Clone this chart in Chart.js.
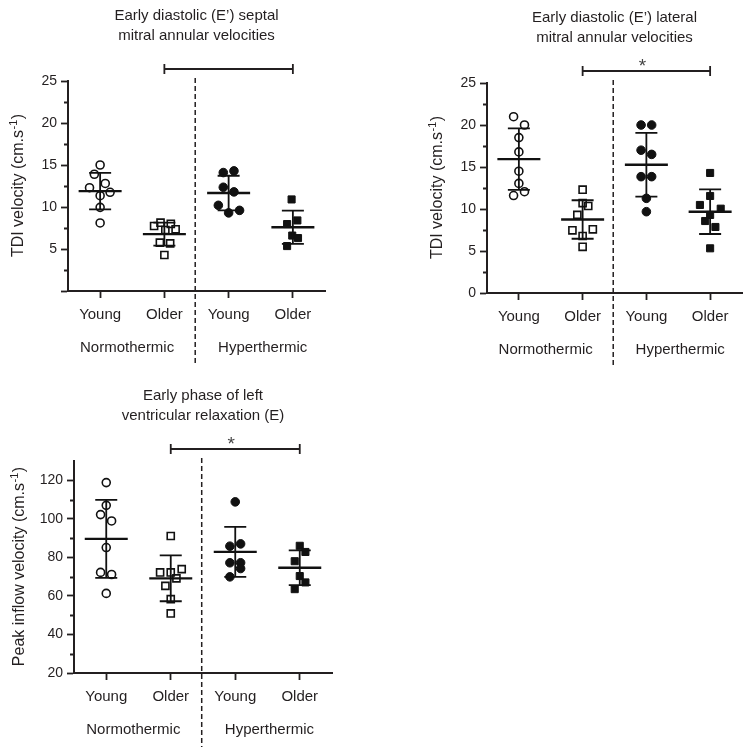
<!DOCTYPE html>
<html><head><meta charset="utf-8">
<script src="https://cdn.jsdelivr.net/npm/chart.js@4.4.0/dist/chart.umd.min.js"></script>
<style>
html,body{margin:0;padding:0;background:#fff;}
body{width:751px;height:754px;position:relative;overflow:hidden;}
canvas{position:absolute;}
</style></head><body>
<canvas id="c1" width="375" height="375" style="left:0;top:0;width:375px;height:375px"></canvas>
<canvas id="c2" width="376" height="375" style="left:375px;top:0;width:376px;height:375px"></canvas>
<canvas id="c3" width="375" height="377" style="left:0;top:377px;width:375px;height:377px"></canvas>
<script>
// ---------- shared labels ----------
const categories = ['Young', 'Older', 'Young', 'Older'];
const groupLabels = ['Normothermic', 'Hyperthermic'];

// ---------- tick labels ----------
const tdiTicks = [0, 5, 10, 15, 20, 25];
const tdiMinorTicks = [2.5, 7.5, 12.5, 17.5, 22.5];
const inflowTicks = [20, 40, 60, 80, 100, 120];
const inflowMinorTicks = [30, 50, 70, 90, 110];

// ---------- titles ----------
const septalTitle = ['Early diastolic (E\u2019) septal', 'mitral annular velocities'];
const lateralTitle = ['Early diastolic (E\u2019) lateral', 'mitral annular velocities'];
const inflowTitle = ['Early phase of left', 'ventricular relaxation (E)'];
const tdiAxisTitle = ['TDI velocity (cm.s', '-1', ')'];
const inflowAxisTitle = ['Peak inflow velocity (cm.s', '-1', ')'];

// ---------- Panel 1: septal E' (cm/s) ----------
const septalYoungNormo    = [15.0, 13.9, 12.8, 12.3, 11.75, 11.35, 9.96, 8.1];
const septalYoungNormoJit = [0, -0.09, 0.08, -0.165, 0.155, 0, 0, 0];
const septalOlderNormo    = [8.13, 8.0, 7.74, 7.34, 7.26, 5.75, 5.67, 4.29];
const septalOlderNormoJit = [-0.06, 0.1, -0.16, 0.175, 0.015, -0.07, 0.09, 0];
const septalYoungHyper    = [14.1, 14.3, 12.35, 11.8, 10.2, 9.3, 9.6];
const septalYoungHyperJit = [-0.083, 0.083, -0.083, 0.083, -0.16, 0, 0.17];
const septalOlderHyper    = [10.9, 7.97, 8.4, 6.6, 6.3, 5.35];
const septalOlderHyperJit = [-0.02, -0.09, 0.07, -0.01, 0.08, -0.09];

// ---------- Panel 2: lateral E' (cm/s) ----------
const lateralYoungNormo    = [20.99, 20.0, 18.5, 16.8, 14.5, 13.05, 12.06, 11.6];
const lateralYoungNormoJit = [-0.083, 0.088, 0, 0, 0, 0, 0.088, -0.083];
const lateralOlderNormo    = [12.3, 10.7, 10.36, 9.3, 7.46, 7.58, 6.79, 5.5];
const lateralOlderNormoJit = [0, 0, 0.088, -0.083, -0.16, 0.16, 0, 0];
const lateralYoungHyper    = [20.0, 20.0, 17.0, 16.5, 13.85, 13.85, 11.27, 9.68];
const lateralYoungHyperJit = [-0.083, 0.083, -0.083, 0.083, -0.083, 0.083, 0, 0];
const lateralOlderHyper    = [14.29, 11.55, 10.48, 10.04, 9.29, 8.57, 7.86, 5.32];
const lateralOlderHyperJit = [0, 0, -0.16, 0.166, 0, -0.078, 0.083, 0];

// ---------- Panel 3: peak inflow E (cm/s) ----------
const inflowYoungNormo    = [118.8, 107.0, 102.2, 98.9, 85.1, 72.2, 71.1, 61.3];
const inflowYoungNormoJit = [0, 0, -0.088, 0.083, 0, -0.088, 0.083, 0];
const inflowOlderNormo    = [91.1, 72.2, 72.2, 73.9, 69.1, 65.2, 58.3, 50.9];
const inflowOlderNormoJit = [0, -0.165, 0, 0.17, 0.088, -0.083, 0, 0];
const inflowYoungHyper    = [108.8, 85.8, 87.0, 77.2, 77.2, 74.2, 69.9];
const inflowYoungHyperJit = [0, -0.083, 0.083, -0.083, 0.083, 0.083, -0.083];
const inflowOlderHyper    = [86.0, 82.8, 78.0, 70.3, 67.0, 63.5];
const inflowOlderHyperJit = [0, 0.088, -0.078, 0, 0.088, -0.078];

// ---------- styling ----------
const FONT = "'Liberation Sans', Arial, Helvetica, sans-serif";
const INK = '#231f20';
const MARK = '#111111';

function toPoints(values, jitter, cat) {
  return values.map((v, i) => ({ x: cat + jitter[i], y: v }));
}

function makeDatasets(yn, ynj, on, onj, yh, yhj, oh, ohj) {
  return [
    { cat: 1, data: toPoints(yn, ynj, 1), pointStyle: 'circle', pointRadius: 4, backgroundColor: 'rgba(0,0,0,0)', borderColor: MARK, borderWidth: 1.6 },
    { cat: 2, data: toPoints(on, onj, 2), pointStyle: 'rect', pointRadius: 5, backgroundColor: 'rgba(0,0,0,0)', borderColor: MARK, borderWidth: 1.6 },
    { cat: 3, data: toPoints(yh, yhj, 3), pointStyle: 'circle', pointRadius: 4.3, backgroundColor: MARK, borderColor: MARK, borderWidth: 1 },
    { cat: 4, data: toPoints(oh, ohj, 4), pointStyle: 'rect', pointRadius: 5, backgroundColor: MARK, borderColor: MARK, borderWidth: 1 }
  ].map(d => Object.assign(d, { pointHoverRadius: d.pointRadius, showLine: false }));
}

function decorPlugin(cfg) {
  return {
    id: 'decor',
    afterDatasetsDraw(chart) {
      const { ctx, scales: { x, y } } = chart;
      ctx.save();
      ctx.strokeStyle = MARK;
      chart.data.datasets.forEach(ds => {
        const vals = ds.data.map(p => p.y);
        const n = vals.length;
        const m = vals.reduce((s, v) => s + v, 0) / n;
        const sd = Math.sqrt(vals.reduce((s, v) => s + (v - m) * (v - m), 0) / (n - 1));
        const px = x.getPixelForValue(ds.cat);
        const pm = y.getPixelForValue(m);
        const pt = y.getPixelForValue(m + sd);
        const pb = y.getPixelForValue(m - sd);
        ctx.lineWidth = 1.8;
        ctx.beginPath();
        ctx.moveTo(px, pt); ctx.lineTo(px, pb);
        ctx.moveTo(px - 11, pt); ctx.lineTo(px + 11, pt);
        ctx.moveTo(px - 11, pb); ctx.lineTo(px + 11, pb);
        ctx.stroke();
        ctx.lineWidth = 2.4;
        ctx.beginPath();
        ctx.moveTo(px - 21.5, pm); ctx.lineTo(px + 21.5, pm);
        ctx.stroke();
      });
      ctx.restore();
    },
    afterDraw(chart) {
      const { ctx, chartArea: a, scales: { x, y } } = chart;
      ctx.save();
      ctx.fillStyle = INK;
      ctx.strokeStyle = INK;
      const cx = (a.left + a.right) / 2;
      // title
      ctx.font = `15px ${FONT}`;
      ctx.textAlign = 'center';
      ctx.textBaseline = 'alphabetic';
      cfg.title.forEach((t, i) => ctx.fillText(t, cx, a.top - 61 + i * 20));
      // y-axis title with superscript
      ctx.save();
      ctx.translate(a.left - cfg.yTitleGap, (a.top + a.bottom) / 2);
      ctx.rotate(-Math.PI / 2);
      const [t1, sup, t3] = cfg.yTitle;
      ctx.font = `16px ${FONT}`;
      const w1 = ctx.measureText(t1).width;
      const w3 = ctx.measureText(t3).width;
      ctx.font = `11px ${FONT}`;
      const ws = ctx.measureText(sup).width;
      const start = -(w1 + ws + w3) / 2;
      ctx.textAlign = 'left';
      ctx.font = `16px ${FONT}`;
      ctx.fillText(t1, start, 0);
      ctx.font = `11px ${FONT}`;
      ctx.fillText(sup, start + w1 + 0.5, -6.5);
      ctx.font = `16px ${FONT}`;
      ctx.fillText(t3, start + w1 + ws + 1, 0);
      ctx.restore();
      // minor ticks
      ctx.lineWidth = 1.8;
      ctx.beginPath();
      cfg.minorTicks.forEach(v => {
        const py = Math.round(y.getPixelForValue(v)) + 0.5;
        ctx.moveTo(a.left - 4, py); ctx.lineTo(a.left, py);
      });
      ctx.stroke();
      // dashed divider
      const dx = x.getPixelForValue(2.48);
      ctx.lineWidth = 1.5;
      ctx.setLineDash([5, 3]);
      ctx.beginPath();
      ctx.moveTo(dx, a.top - 3); ctx.lineTo(dx, a.bottom + 74);
      ctx.stroke();
      ctx.setLineDash([]);
      // group labels
      ctx.font = `15px ${FONT}`;
      ctx.textAlign = 'center';
      ctx.fillText(groupLabels[0], x.getPixelForValue(1.42), a.bottom + 61);
      ctx.fillText(groupLabels[1], x.getPixelForValue(3.53), a.bottom + 61);
      // comparison bracket Older normo vs Older hyper
      const bx1 = x.getPixelForValue(2), bx2 = x.getPixelForValue(4);
      const by = a.top - 12;
      ctx.lineWidth = 1.8;
      ctx.beginPath();
      ctx.moveTo(bx1, by); ctx.lineTo(bx2, by);
      ctx.moveTo(bx1, by - 5); ctx.lineTo(bx1, by + 5);
      ctx.moveTo(bx2, by - 5); ctx.lineTo(bx2, by + 5);
      ctx.stroke();
      if (cfg.star) {
        ctx.font = `19px ${FONT}`;
        ctx.fillStyle = '#444';
        ctx.fillText('*', (bx1 + bx2) / 2 - 4, by + 1);
      }
      ctx.restore();
    }
  };
}

function makeChart(id, datasets, o) {
  return new Chart(document.getElementById(id), {
    type: 'scatter',
    data: { datasets },
    options: {
      responsive: false,
      animation: false,
      events: [],
      layout: { padding: o.padding },
      plugins: { legend: { display: false }, tooltip: { enabled: false }, title: { display: false } },
      scales: {
        x: {
          type: 'linear', min: 0.5, max: 4.5,
          afterBuildTicks: s => { s.ticks = categories.map((_, i) => ({ value: i + 1 })); },
          ticks: { callback: v => categories[Math.round(v) - 1] || '', font: { family: FONT, size: 15 }, color: INK, padding: 8, maxRotation: 0, autoSkip: false },
          grid: { drawOnChartArea: false, drawTicks: true, tickLength: 7, tickColor: INK, tickWidth: 1.8 },
          border: { color: INK, width: 2 },
          afterFit: s => { s.height = 50; }
        },
        y: {
          type: 'linear', min: o.min, max: o.max,
          afterBuildTicks: s => { s.ticks = o.ticks.map(v => ({ value: v })); },
          ticks: { callback: v => (o.hideZero && v === 0) ? '' : String(v), font: { family: FONT, size: 14 }, color: INK, padding: 4 },
          grid: { drawOnChartArea: false, drawTicks: true, tickLength: 7, tickColor: INK, tickWidth: 1.8 },
          border: { color: INK, width: 2 },
          afterFit: s => { s.width = o.yWidth; }
        }
      }
    },
    plugins: [decorPlugin(o.decor)]
  });
}

makeChart('c1',
  makeDatasets(septalYoungNormo, septalYoungNormoJit, septalOlderNormo, septalOlderNormoJit,
               septalYoungHyper, septalYoungHyperJit, septalOlderHyper, septalOlderHyperJit),
  { padding: { left: 0, top: 81, right: 50, bottom: 34 }, yWidth: 68, min: 0, max: 25, ticks: tdiTicks, hideZero: true,
    decor: { title: septalTitle, yTitle: tdiAxisTitle, yTitleGap: 45, minorTicks: tdiMinorTicks, star: false } });

makeChart('c2',
  makeDatasets(lateralYoungNormo, lateralYoungNormoJit, lateralOlderNormo, lateralOlderNormoJit,
               lateralYoungHyper, lateralYoungHyperJit, lateralOlderHyper, lateralOlderHyperJit),
  { padding: { left: 0, top: 83, right: 9, bottom: 32 }, yWidth: 112, min: 0, max: 25, ticks: tdiTicks, hideZero: false,
    decor: { title: lateralTitle, yTitle: tdiAxisTitle, yTitleGap: 45, minorTicks: tdiMinorTicks, star: true } });

makeChart('c3',
  makeDatasets(inflowYoungNormo, inflowYoungNormoJit, inflowOlderNormo, inflowOlderNormoJit,
               inflowYoungHyper, inflowYoungHyperJit, inflowOlderHyper, inflowOlderHyperJit),
  { padding: { left: 0, top: 84, right: 43, bottom: 31 }, yWidth: 74, min: 20, max: 130, ticks: inflowTicks, hideZero: false,
    decor: { title: inflowTitle, yTitle: inflowAxisTitle, yTitleGap: 50, minorTicks: inflowMinorTicks, star: true } });
</script>
</body></html>
